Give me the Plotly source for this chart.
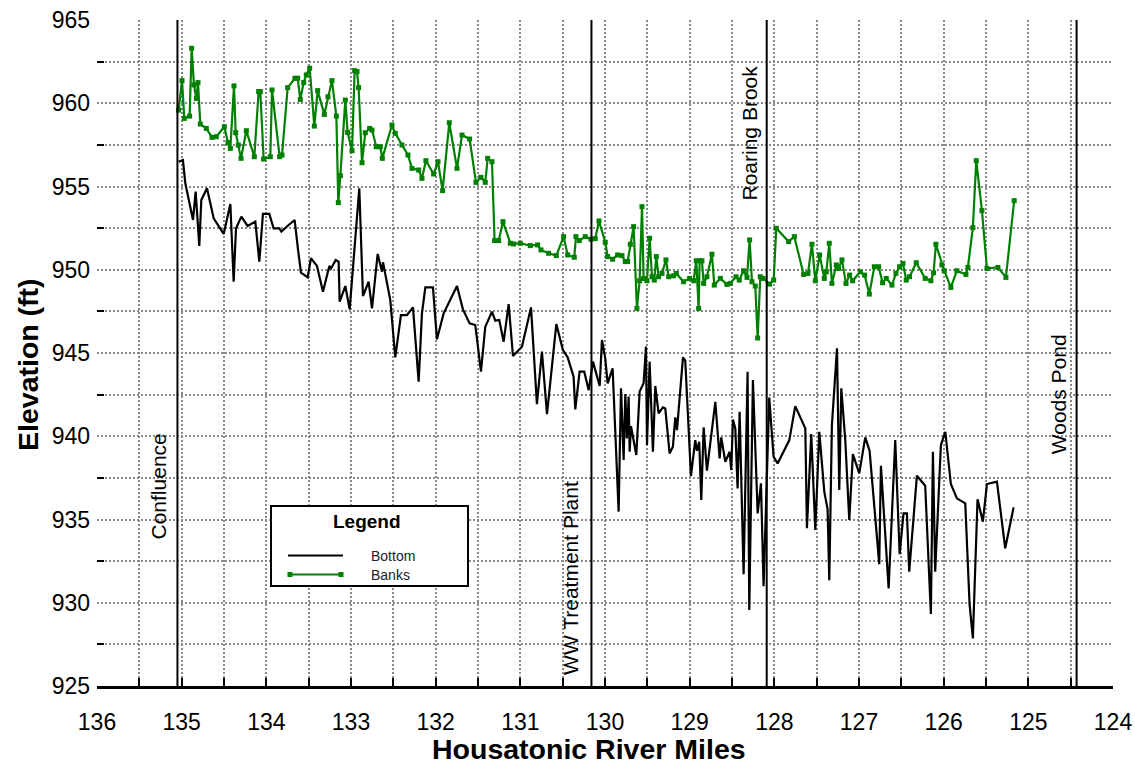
import plotly.graph_objects as go

# ---------------- data ----------------
bottom_mile = [
    135.036, 134.985, 134.957, 134.866, 134.835, 134.792, 134.768, 134.701, 134.622, 134.504,
    134.425, 134.386, 134.358, 134.295, 134.221, 134.130, 134.083, 134.040, 133.965, 133.914,
    133.847, 133.823, 133.736, 133.666, 133.626, 133.591, 133.512, 133.473, 133.402, 133.331,
    133.256, 133.236, 133.181, 133.146, 133.134, 133.067, 133.016, 132.902, 132.859, 132.792,
    132.752, 132.685, 132.634, 132.622, 132.536, 132.477, 132.410, 132.339, 132.268, 132.201,
    132.162, 132.122, 132.032, 131.985, 131.906, 131.748, 131.678, 131.599, 131.532, 131.465,
    131.414, 131.335, 131.296, 131.249, 131.197, 131.138, 131.087, 130.981, 130.874, 130.804,
    130.745, 130.685, 130.575, 130.497, 130.441, 130.371, 130.351, 130.300, 130.245, 130.193,
    130.142, 130.103, 130.063, 130.036, 129.997, 129.969, 129.910, 129.839, 129.811, 129.780,
    129.760, 129.741, 129.721, 129.709, 129.693, 129.630, 129.591, 129.544, 129.516, 129.504,
    129.473, 129.434, 129.406, 129.367, 129.316, 129.288, 129.237, 129.198, 129.170, 129.150,
    129.079, 129.052, 128.985, 128.934, 128.914, 128.887, 128.863, 128.835, 128.796, 128.697,
    128.646, 128.627, 128.579, 128.528, 128.509, 128.489, 128.461, 128.434, 128.410, 128.363,
    128.316, 128.296, 128.253, 128.197, 128.158, 128.127, 128.060, 128.009, 127.961, 127.823,
    127.753, 127.634, 127.615, 127.564, 127.516, 127.469, 127.410, 127.371, 127.351, 127.320,
    127.260, 127.233, 127.209, 127.162, 127.115, 127.072, 126.997, 126.926, 126.875, 126.761,
    126.741, 126.650, 126.572, 126.520, 126.474, 126.434, 126.407, 126.316, 126.218, 126.151,
    126.127, 126.100, 126.033, 125.981, 125.915, 125.844, 125.745, 125.694, 125.655, 125.600,
    125.537, 125.489, 125.371, 125.273, 125.174,
]
bottom_elev = [
    956.49, 956.59, 955.19, 952.99, 954.69, 951.43, 954.19, 954.89, 953.09, 952.15,
    953.95, 949.28, 952.49, 953.19, 952.63, 952.89, 950.49, 953.35, 953.35, 952.49,
    952.49, 952.29, 952.69, 952.99, 951.23, 949.82, 949.54, 950.69, 950.23, 948.68,
    950.23, 950.08, 950.58, 950.48, 948.08, 949.02, 947.62, 954.89, 948.42, 949.28,
    947.68, 950.95, 949.88, 950.45, 948.18, 944.74, 947.28, 947.28, 947.74, 943.28,
    947.38, 948.94, 948.94, 945.82, 947.38, 949.02, 947.62, 946.78, 946.68, 943.88,
    946.58, 947.48, 946.94, 946.98, 945.68, 947.94, 944.82, 945.38, 947.74, 941.93,
    945.08, 941.33, 946.74, 945.18, 944.74, 943.58, 941.61, 943.88, 943.88, 942.77,
    944.48, 943.78, 943.02, 945.78, 944.68, 943.18, 944.08, 935.47, 942.88, 938.57,
    942.54, 939.87, 942.38, 939.07, 940.61, 938.87, 942.68, 943.18, 945.38, 939.47,
    944.48, 939.07, 943.02, 941.37, 941.73, 941.67, 938.97, 939.37, 941.13, 940.37,
    944.74, 944.54, 937.61, 939.77, 939.13, 939.67, 936.17, 940.53, 937.93, 942.07,
    938.67, 939.93, 938.47, 939.07, 937.97, 941.01, 940.47, 936.87, 941.47, 931.72,
    943.88, 929.56, 943.37, 935.37, 937.17, 931.00, 942.33, 938.77, 938.37, 939.77,
    941.81, 940.47, 934.47, 940.13, 934.37, 940.27, 936.67, 935.61, 931.36, 940.67,
    945.28, 936.77, 942.88, 939.77, 934.97, 938.93, 937.77, 939.93, 939.13, 932.32,
    938.23, 930.86, 939.77, 932.92, 935.37, 935.37, 931.86, 937.63, 937.03, 929.32,
    939.07, 931.86, 939.47, 940.27, 937.13, 936.27, 935.97, 929.92, 927.86, 936.21,
    934.87, 937.13, 937.27, 933.27, 935.73,
]

banks_mile = [
    135.036, 134.996, 134.969, 134.906, 134.882, 134.855, 134.827, 134.807, 134.780, 134.709,
    134.642, 134.591, 134.496, 134.453, 134.425, 134.382, 134.362, 134.331, 134.299, 134.236,
    134.142, 134.091, 134.071, 134.032, 133.953, 133.933, 133.843, 133.815, 133.748, 133.662,
    133.630, 133.599, 133.559, 133.528, 133.488, 133.433, 133.394, 133.315, 133.272, 133.225,
    133.173, 133.150, 133.126, 133.067, 133.040, 132.988, 132.957, 132.929, 132.910, 132.870,
    132.831, 132.780, 132.752, 132.701, 132.654, 132.630, 132.516, 132.477, 132.398, 132.327,
    132.280, 132.201, 132.162, 132.115, 132.024, 131.973, 131.918, 131.839, 131.748, 131.689,
    131.599, 131.524, 131.465, 131.414, 131.386, 131.335, 131.304, 131.256, 131.205, 131.118,
    131.079, 131.000, 130.882, 130.796, 130.756, 130.666, 130.575, 130.489, 130.441, 130.363,
    130.343, 130.304, 130.233, 130.166, 130.115, 130.071, 129.997, 129.969, 129.910, 129.851,
    129.800, 129.760, 129.733, 129.701, 129.662, 129.623, 129.591, 129.563, 129.544, 129.504,
    129.473, 129.445, 129.418, 129.394, 129.367, 129.327, 129.280, 129.248, 129.189, 129.158,
    129.072, 129.001, 128.953, 128.922, 128.894, 128.882, 128.855, 128.835, 128.796, 128.737,
    128.709, 128.638, 128.560, 128.520, 128.453, 128.414, 128.363, 128.323, 128.292, 128.264,
    128.225, 128.197, 128.166, 128.134, 128.056, 128.008, 127.977, 127.831, 127.764, 127.654,
    127.603, 127.556, 127.516, 127.465, 127.410, 127.386, 127.351, 127.320, 127.268, 127.241,
    127.201, 127.154, 127.111, 127.075, 126.985, 126.934, 126.878, 126.819, 126.768, 126.721,
    126.678, 126.611, 126.564, 126.520, 126.481, 126.442, 126.403, 126.324, 126.218, 126.151,
    126.119, 126.092, 126.021, 125.993, 125.915, 125.844, 125.737, 125.714, 125.655, 125.615,
    125.548, 125.489, 125.359, 125.265, 125.167,
]
banks_elev = [
    959.59, 961.36, 959.09, 959.23, 963.30, 961.10, 960.29, 961.24, 958.75, 958.49,
    957.95, 957.99, 958.59, 957.63, 957.29, 961.04, 958.23, 957.49, 956.69, 958.35,
    956.79, 960.70, 960.70, 956.65, 956.79, 960.80, 956.79, 956.89, 960.94, 961.50,
    961.50, 960.23, 961.24, 961.70, 962.10, 958.63, 960.76, 959.33, 960.39, 961.36,
    959.23, 954.03, 955.65, 960.19, 958.25, 957.15, 961.96, 961.90, 960.94, 956.43,
    958.23, 958.49, 958.39, 957.39, 957.39, 956.69, 958.69, 958.19, 957.49, 956.89,
    956.09, 955.99, 955.49, 956.55, 955.75, 956.49, 954.75, 958.83, 956.09, 958.09,
    957.85, 955.25, 955.55, 955.25, 956.69, 956.49, 951.75, 951.75, 952.89, 951.59,
    951.55, 951.59, 951.45, 951.49, 951.19, 950.99, 950.85, 951.99, 950.89, 950.75,
    951.99, 951.75, 951.99, 951.83, 951.87, 952.93, 951.65, 950.79, 950.63, 950.89,
    950.85, 950.49, 950.49, 951.53, 952.59, 947.68, 949.34, 953.79, 949.48, 949.34,
    951.89, 949.58, 949.38, 950.79, 949.58, 949.78, 950.59, 949.58, 949.64, 949.78,
    949.28, 949.48, 949.34, 950.54, 947.68, 950.54, 950.54, 949.18, 949.58, 950.93,
    949.08, 949.48, 949.12, 949.18, 949.58, 949.38, 949.94, 949.54, 951.79, 949.28,
    949.02, 945.90, 949.58, 949.48, 949.14, 949.38, 952.49, 951.69, 951.99, 949.72,
    949.78, 951.53, 949.34, 950.89, 949.48, 949.88, 951.59, 949.18, 950.29, 950.08,
    950.59, 949.18, 949.68, 949.34, 949.88, 949.68, 948.54, 950.18, 950.18, 949.22,
    949.48, 949.08, 949.78, 950.18, 950.38, 949.38, 949.58, 950.42, 949.48, 949.34,
    949.82, 951.53, 950.29, 949.94, 948.94, 949.94, 949.72, 950.14, 952.53, 956.55,
    953.55, 950.08, 950.14, 949.54, 954.15,
]

landmark_names = ["Confluence", "WW Treatment Plant", "Roaring Brook", "Woods Pond"]
landmark_miles = [135.05, 130.16, 128.09, 124.43]
label_miles = [135.276, 130.40, 128.296, 124.643]
label_elevs = [937.0, 931.5, 958.2, 942.5]

series_names = ["Bottom", "Banks"]
series_colors = ["black", "#008000"]

x_title = "Housatonic River Miles"
y_title = "Elevation (ft)"
x_range = [136, 124]
y_range = [925, 965]

# ---------------- layout helpers ----------------
W, H = 1135, 767
ML, MR, MT, MB = 97, 22, 20, 81
PW, PH = W - ML - MR, H - MT - MB


def px_x(px):
    return (px - ML) / PW


def px_y(py):
    return (H - MB - py) / PH


FONT = "Arial, Liberation Sans, Helvetica, sans-serif"
GRID = "#8a8a8a"

fig = go.Figure()

fig.add_trace(go.Scatter(
    x=bottom_mile, y=bottom_elev, mode="lines", name=series_names[0],
    line=dict(color=series_colors[0], width=2.2), showlegend=False,
))
fig.add_trace(go.Scatter(
    x=banks_mile, y=banks_elev, mode="lines+markers", name=series_names[1],
    line=dict(color=series_colors[1], width=2.2),
    marker=dict(symbol="square", size=5, color=series_colors[1]),
    showlegend=False,
))

shapes = []
annotations = []
for name, m, lm, le in zip(landmark_names, landmark_miles, label_miles, label_elevs):
    shapes.append(dict(type="line", xref="x", yref="y domain", x0=m, x1=m, y0=0, y1=1,
                       line=dict(color="black", width=2), layer="above"))
    annotations.append(dict(x=lm, y=le, xref="x", yref="y", text=name, showarrow=False,
                            textangle=-90, xanchor="center", yanchor="middle",
                            font=dict(family=FONT, size=21, color="black")))

# axis titles
annotations.append(dict(x=px_x(589), y=px_y(766), xref="paper", yref="paper",
                        text="<b>" + x_title + "</b>", showarrow=False,
                        xanchor="center", yanchor="bottom", borderpad=0,
                        font=dict(family=FONT, size=28.5, color="black")))
annotations.append(dict(x=px_x(28), y=px_y(365), xref="paper", yref="paper",
                        text="<b>" + y_title + "</b>", showarrow=False, textangle=-90,
                        xanchor="center", yanchor="middle",
                        font=dict(family=FONT, size=28.5, color="black")))

# legend box (drawn manually to match the reference style)
bx0, bx1, by0, by1 = 271, 468, 506, 586
shapes.append(dict(type="rect", xref="paper", yref="paper",
                   x0=px_x(bx0), x1=px_x(bx1), y0=px_y(by1), y1=px_y(by0),
                   line=dict(color="black", width=2), fillcolor="white", layer="above"))
annotations.append(dict(x=px_x(367), y=px_y(521), xref="paper", yref="paper", text="<b>Legend</b>",
                        showarrow=False, xanchor="center", yanchor="middle",
                        font=dict(family=FONT, size=19, color="black")))
row_y = [555.5, 574.5]
for name, color, ry in zip(series_names, series_colors, row_y):
    shapes.append(dict(type="line", xref="paper", yref="paper",
                       x0=px_x(288), x1=px_x(343), y0=px_y(ry), y1=px_y(ry),
                       line=dict(color=color, width=2.2), layer="above"))
    annotations.append(dict(x=px_x(369), y=px_y(ry), xref="paper", yref="paper", text=name,
                            showarrow=False, xanchor="left", yanchor="middle",
                            font=dict(family=FONT, size=14, color="#222")))
for cx in (290, 341):
    shapes.append(dict(type="rect", xref="paper", yref="paper",
                       x0=px_x(cx - 2.5), x1=px_x(cx + 2.5), y0=px_y(row_y[1] + 2.5), y1=px_y(row_y[1] - 2.5),
                       line=dict(width=0), fillcolor=series_colors[1], layer="above"))

fig.update_layout(
    width=W, height=H,
    margin=dict(l=ML, r=MR, t=MT, b=MB, pad=0),
    paper_bgcolor="white", plot_bgcolor="white",
    font=dict(family=FONT, color="black"),
    shapes=shapes, annotations=annotations,
    showlegend=False,
)

fig.update_xaxes(
    range=x_range, autorange=False,
    dtick=1, tick0=124,
    ticks="inside", ticklen=8, tickwidth=2, tickcolor="black",
    tickfont=dict(family=FONT, size=23, color="black"),
    ticklabelstandoff=14,
    showline=True, linecolor="black", linewidth=2.5,
    showgrid=True, gridcolor=GRID, gridwidth=1.5, griddash="2px,2px",
    zeroline=False,
    minor=dict(dtick=0.5, tick0=124, ticks="inside", ticklen=8, tickwidth=2, tickcolor="black",
               showgrid=True, gridcolor=GRID, gridwidth=1.5, griddash="2px,2px"),
    automargin=False,
)
fig.update_yaxes(
    range=y_range, autorange=False,
    dtick=5, tick0=925,
    ticks="",
    tickfont=dict(family=FONT, size=23, color="black"),
    ticklabelstandoff=6,
    showline=False,
    showgrid=True, gridcolor=GRID, gridwidth=1.5, griddash="2px,2px",
    zeroline=False,
    minor=dict(dtick=2.5, tick0=925, ticks="inside", ticklen=7, tickwidth=2, tickcolor="black",
               showgrid=True, gridcolor=GRID, gridwidth=1.5, griddash="2px,2px"),
    automargin=False,
)

fig.write_html("out.html")
